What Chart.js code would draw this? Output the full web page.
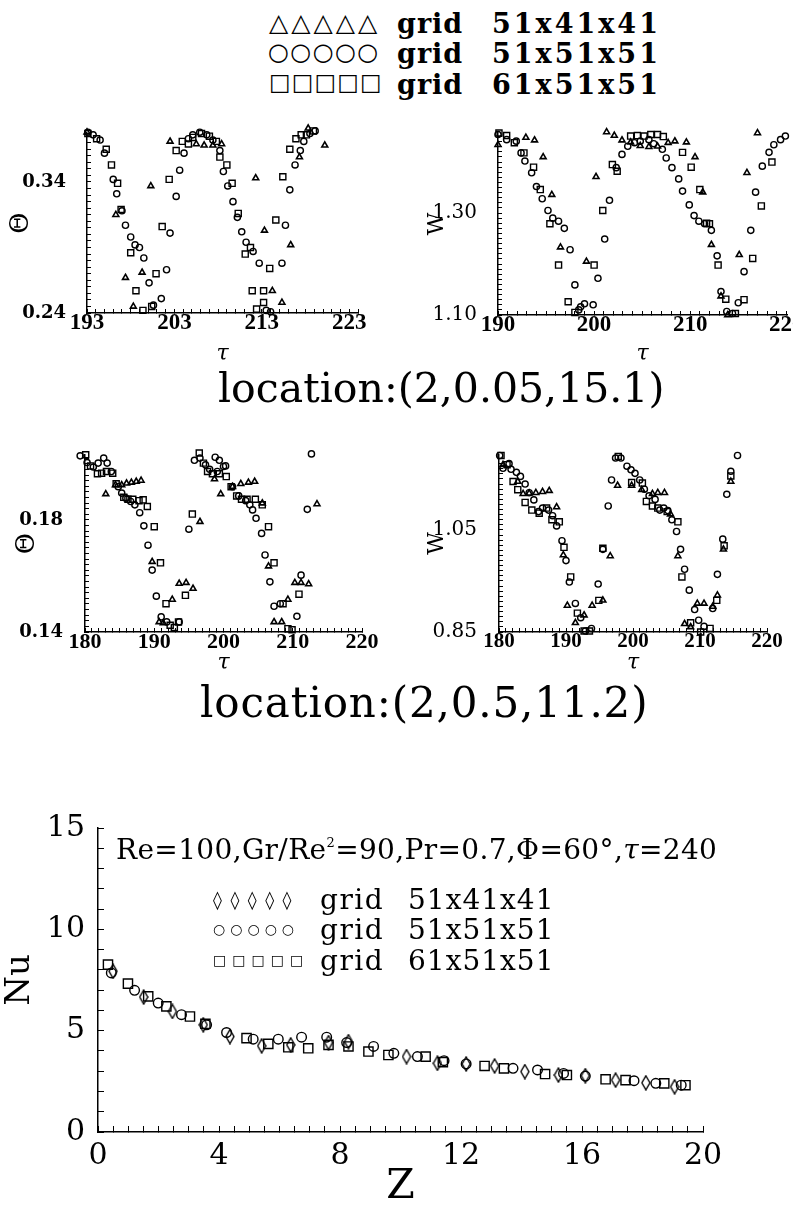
<!DOCTYPE html>
<html>
<head>
<meta charset="utf-8">
<title>grid comparison</title>
<script src="https://cdn.jsdelivr.net/npm/chart.js@4.4.1/dist/chart.umd.min.js"></script>
<style>
  body { margin: 0; background: #fff; }
  #page { position: relative; width: 793px; height: 1209px; overflow: hidden; background: #fff; color: #000; font-family: 'DejaVu Serif', serif; }
  #page canvas { position: absolute; }
  .t { position: absolute; white-space: pre; line-height: 1; }
  .mk { font-family: 'DejaVu Sans', sans-serif; }
  .b { font-weight: bold; }
  sup { font-size: 13px; vertical-align: 12px; line-height: 0; }
</style>
</head>
<body>
<div id="page">
  <canvas id="c1" width="380" height="250" style="left:0;top:120px"></canvas>
  <canvas id="c2" width="393" height="250" style="left:400px;top:120px"></canvas>
  <canvas id="c3" width="380" height="250" style="left:0;top:440px"></canvas>
  <canvas id="c4" width="393" height="250" style="left:400px;top:440px"></canvas>
  <canvas id="c5" width="793" height="409" style="left:0;top:800px"></canvas>

  <!-- legend at the top -->
  <div class="t mk" style="left:269px;top:10px;font-size:25px;letter-spacing:3px">△△△△△</div>
  <div class="t mk" style="left:268px;top:40px;font-size:24px;letter-spacing:1.4px">○○○○○</div>
  <div class="t mk" style="left:269px;top:71px;font-size:23px;letter-spacing:1px">□□□□□</div>
  <div class="t b" style="left:397px;top:10px;font-size:27px;letter-spacing:1px">grid</div>
  <div class="t b" style="left:397px;top:40px;font-size:27px;letter-spacing:1px">grid</div>
  <div class="t b" style="left:397px;top:71px;font-size:27px;letter-spacing:1px">grid</div>
  <div class="t b" style="left:492px;top:10px;font-size:27px;letter-spacing:3px">51x41x41</div>
  <div class="t b" style="left:492px;top:40px;font-size:27px;letter-spacing:3px">51x51x51</div>
  <div class="t b" style="left:492px;top:71px;font-size:27px;letter-spacing:3px">61x51x51</div>

  <div class="t" style="left:218px;top:368px;font-size:41px">location:(2,0.05,15.1)</div>
  <div class="t" style="left:200px;top:682px;font-size:42px;letter-spacing:0.85px">location:(2,0.5,11.2)</div>

  <!-- bottom chart annotations -->
  <div class="t" style="left:116px;top:836px;font-size:28px;letter-spacing:0.35px">Re=100,Gr/Re<sup>2</sup>=90,Pr=0.7,Φ=60°,<i>τ</i>=240</div>
  <div class="t mk" style="left:213px;top:891px;font-size:18px;letter-spacing:8.5px">◊◊◊◊◊</div>
  <div class="t mk" style="left:213px;top:922px;font-size:14px;letter-spacing:5px">○○○○○</div>
  <div class="t mk" style="left:213px;top:953px;font-size:14px;letter-spacing:6px">□□□□□</div>
  <div class="t" style="left:320px;top:886px;font-size:28px;letter-spacing:1.5px">grid</div>
  <div class="t" style="left:320px;top:916px;font-size:28px;letter-spacing:1.5px">grid</div>
  <div class="t" style="left:320px;top:947px;font-size:28px;letter-spacing:1.5px">grid</div>
  <div class="t" style="left:408px;top:886px;font-size:28px;letter-spacing:1px">51x41x41</div>
  <div class="t" style="left:408px;top:916px;font-size:28px;letter-spacing:1px">51x51x51</div>
  <div class="t" style="left:408px;top:947px;font-size:28px;letter-spacing:1px">61x51x51</div>
</div>

<script>
// ---------- location (2,0.05,15.1): Theta vs tau ----------
var tauLabels1 = [193, 203, 213, 223];
var thetaLabels1 = [0.24, 0.34];
var th1Tri = [[193.0,0.378],[196.3,0.315],[197.4,0.267],[198.3,0.245],[199.3,0.271],[200.3,0.337],[202.5,0.371],[205.5,0.369],[206.4,0.368],[207.4,0.368],[208.4,0.369],[212.3,0.343],[213.3,0.303],[214.2,0.257],[215.3,0.248],[216.3,0.292],[217.3,0.359],[218.3,0.381],[220.2,0.368]];
var th1Cir = [[193.1,0.378],[193.7,0.376],[194.5,0.372],[195.0,0.362],[196.0,0.342],[196.4,0.331],[197.0,0.318],[197.4,0.307],[198.0,0.298],[198.5,0.292],[199.0,0.290],[199.5,0.282],[200.1,0.263],[200.6,0.246],[201.5,0.251],[202.1,0.273],[202.5,0.301],[203.2,0.329],[203.6,0.349],[204.1,0.362],[204.6,0.373],[205.1,0.376],[205.9,0.378],[206.7,0.376],[207.4,0.372],[208.2,0.364],[208.6,0.348],[209.1,0.337],[209.7,0.325],[210.2,0.313],[210.7,0.302],[211.2,0.294],[212.0,0.287],[212.7,0.278],[213.5,0.242],[214.0,0.241],[215.3,0.278],[215.7,0.307],[216.2,0.334],[216.8,0.353],[217.4,0.364],[217.8,0.371],[218.5,0.377],[219.1,0.379]];
var th1Sq = [[193.1,0.377],[194.1,0.373],[195.2,0.365],[195.8,0.353],[196.5,0.339],[196.9,0.319],[198.0,0.286],[198.6,0.257],[199.4,0.242],[200.4,0.245],[200.9,0.270],[201.6,0.306],[202.4,0.342],[203.2,0.364],[203.9,0.371],[204.6,0.369],[205.1,0.374],[206.1,0.377],[207.0,0.375],[207.8,0.371],[208.2,0.359],[209.0,0.353],[209.6,0.339],[210.3,0.316],[211.1,0.285],[211.7,0.290],[211.9,0.257],[212.4,0.243],[213.2,0.257],[213.2,0.248],[213.9,0.274],[214.6,0.311],[215.4,0.344],[216.2,0.365],[216.9,0.373],[217.5,0.376],[218.1,0.376],[218.9,0.379]];

// ---------- location (2,0.05,15.1): W vs tau ----------
var tauLabels2 = [190, 200, 210, 220];
var wLabels1 = [1.10, 1.30];
var w1Tri = [[190.0,1.434],[192.9,1.448],[193.8,1.443],[194.7,1.410],[195.6,1.336],[196.5,1.233],[199.2,1.205],[200.2,1.371],[201.3,1.459],[202.1,1.452],[202.9,1.443],[203.8,1.439],[204.8,1.432],[205.7,1.430],[206.6,1.431],[207.7,1.438],[208.4,1.441],[209.6,1.439],[210.5,1.410],[211.3,1.341],[212.2,1.238],[213.2,1.137],[213.9,1.100],[215.1,1.218],[215.9,1.379],[217.0,1.457]];
var w1Cir = [[190.0,1.454],[190.9,1.444],[191.9,1.441],[192.4,1.418],[192.8,1.402],[193.5,1.379],[194.0,1.352],[194.6,1.328],[195.2,1.305],[195.7,1.290],[196.3,1.284],[196.9,1.270],[197.5,1.228],[198.0,1.159],[198.4,1.110],[198.6,1.116],[199.0,1.122],[199.9,1.120],[200.4,1.172],[201.1,1.249],[201.6,1.325],[202.3,1.389],[202.9,1.415],[203.5,1.431],[204.2,1.438],[204.8,1.441],[205.7,1.444],[206.2,1.436],[207.1,1.425],[207.5,1.408],[208.1,1.389],[208.8,1.367],[209.2,1.343],[209.9,1.316],[210.4,1.295],[210.9,1.284],[211.5,1.279],[212.2,1.266],[212.8,1.216],[213.2,1.146],[213.8,1.107],[214.4,1.103],[215.0,1.124],[215.6,1.185],[216.3,1.266],[216.8,1.341],[217.5,1.392],[218.2,1.419],[218.7,1.434],[219.4,1.444],[219.9,1.451]];
var w1Sq = [[190.1,1.457],[190.9,1.452],[191.7,1.438],[192.7,1.418],[193.7,1.390],[194.4,1.346],[195.4,1.279],[196.3,1.198],[197.3,1.126],[198.0,1.105],[200.0,1.198],[200.9,1.305],[201.9,1.395],[202.4,1.382],[203.8,1.451],[204.5,1.452],[205.2,1.451],[205.9,1.454],[206.6,1.454],[207.2,1.450],[209.2,1.419],[210.1,1.390],[211.0,1.346],[211.7,1.280],[212.0,1.279],[212.9,1.198],[213.7,1.131],[214.7,1.103],[215.6,1.130],[216.5,1.211],[217.4,1.314],[218.5,1.400]];

// ---------- location (2,0.5,11.2): Theta vs tau ----------
var tauLabels3 = [180, 190, 200, 210, 220];
var thetaLabels2 = [0.14, 0.18];
var th2Tri = [[181.0,0.2065],[183.0,0.1893],[184.4,0.1925],[185.3,0.1925],[186.0,0.1931],[186.7,0.1934],[187.4,0.1937],[188.1,0.1941],[189.7,0.1651],[190.7,0.1436],[191.3,0.1432],[192.6,0.1516],[193.6,0.1573],[194.6,0.1576],[195.6,0.1555],[196.6,0.1794],[197.8,0.2065],[198.7,0.1946],[199.6,0.1893],[201.3,0.1919],[202.5,0.1929],[203.6,0.1934],[204.5,0.1937],[205.6,0.1860],[206.5,0.1635],[207.3,0.1436],[208.4,0.1436],[209.3,0.1516],[210.3,0.1576],[211.2,0.1576],[212.3,0.1571],[213.5,0.1857]];
var th2Cir = [[179.3,0.2029],[180.3,0.2005],[181.2,0.1989],[181.9,0.2003],[182.7,0.2021],[183.2,0.2003],[183.8,0.1973],[184.8,0.1919],[185.3,0.1896],[185.9,0.1878],[186.6,0.1866],[187.2,0.1854],[187.9,0.1826],[188.5,0.1779],[189.1,0.1710],[189.7,0.1621],[190.3,0.1528],[191.0,0.1454],[191.8,0.1436],[193.6,0.1436],[195.0,0.1767],[195.8,0.2013],[196.6,0.2021],[197.4,0.1997],[198.0,0.1981],[198.8,0.2024],[199.1,0.1973],[199.4,0.2013],[200.0,0.1991],[200.3,0.1993],[201.3,0.1919],[202.2,0.1886],[203.2,0.1869],[203.8,0.1854],[204.2,0.1836],[204.7,0.1806],[205.5,0.1752],[206.0,0.1675],[206.7,0.1579],[207.3,0.1492],[208.2,0.1501],[210.6,0.1456],[211.2,0.1603],[212.1,0.1838],[212.7,0.2036]];
var th2Sq = [[180.1,0.2033],[180.8,0.1993],[181.8,0.1965],[182.4,0.1967],[183.1,0.1973],[184.0,0.1967],[184.5,0.1929],[185.6,0.1881],[186.2,0.1874],[186.9,0.1874],[187.8,0.1869],[188.4,0.1872],[189.0,0.1848],[190.0,0.1776],[190.9,0.1647],[191.7,0.1501],[192.3,0.1424],[192.9,0.1416],[193.5,0.1436],[194.5,0.1531],[195.5,0.1821],[196.5,0.2039],[197.1,0.2003],[197.7,0.1973],[198.4,0.1965],[199.4,0.1965],[200.4,0.1955],[201.1,0.1919],[201.9,0.1886],[202.6,0.1874],[203.4,0.1874],[204.6,0.1874],[205.6,0.1854],[206.5,0.1776],[207.3,0.1647],[208.6,0.1501],[209.3,0.1412],[209.9,0.1408],[210.9,0.1535]];

// ---------- location (2,0.5,11.2): W vs tau ----------
var wLabels2 = [0.85, 1.05];
var w2Tri = [[180.6,1.178],[182.8,1.145],[183.6,1.121],[184.5,1.122],[185.5,1.123],[186.5,1.125],[187.5,1.127],[188.6,1.095],[189.6,1.001],[190.2,0.902],[191.4,0.868],[192.7,0.883],[193.9,0.902],[195.5,0.912],[196.6,0.999],[197.7,1.137],[199.8,1.137],[201.3,1.129],[202.9,1.121],[203.7,1.123],[204.7,1.123],[205.6,1.081],[206.7,0.999],[207.7,0.866],[208.6,0.860],[209.6,0.906],[210.6,0.906],[211.9,0.900],[212.6,0.922],[213.5,1.012],[214.6,1.145]];
var w2Cir = [[180.1,1.196],[180.6,1.171],[181.5,1.180],[181.8,1.169],[182.6,1.163],[183.2,1.155],[183.9,1.140],[184.5,1.123],[185.2,1.109],[185.9,1.086],[186.5,1.093],[187.4,1.089],[188.0,1.078],[188.6,1.058],[189.4,1.029],[190.0,0.990],[190.5,0.948],[191.4,0.906],[192.2,0.878],[192.9,0.852],[193.8,0.857],[194.8,0.944],[195.5,1.012],[196.3,1.097],[196.8,1.148],[197.4,1.191],[198.2,1.191],[199.1,1.175],[199.7,1.168],[200.3,1.161],[201.0,1.148],[201.7,1.130],[202.4,1.117],[203.3,1.110],[204.0,1.089],[204.6,1.093],[205.2,1.088],[205.8,1.070],[206.5,1.047],[207.1,1.012],[207.7,0.973],[208.4,0.932],[209.2,0.894],[209.8,0.873],[210.6,0.861],[211.9,0.896],[212.6,0.963],[213.4,1.032],[214.0,1.120],[214.6,1.165],[215.6,1.196]];
var w2Sq = [[180.3,1.196],[181.2,1.178],[182.1,1.145],[182.8,1.129],[183.9,1.104],[184.9,1.089],[186.0,1.083],[187.1,1.093],[187.9,1.070],[189.0,1.066],[189.7,1.016],[190.7,0.958],[191.7,0.887],[192.7,0.852],[193.5,0.852],[194.9,0.912],[195.5,1.014],[197.8,1.194],[199.8,1.143],[201.4,1.142],[202.0,1.106],[202.9,1.097],[203.7,1.093],[205.1,1.086],[206.7,1.066],[207.3,0.958],[208.6,0.868],[210.1,0.850],[211.5,0.857],[212.5,0.912],[213.6,1.019],[214.6,1.156]];

// ---------- Nu vs Z ----------
var zLabels = [0, 4, 8, 12, 16, 20];
var nuLabels = [0, 5, 10, 15];
var nuDia = [[0.50,7.93],[1.51,6.66],[2.46,5.95],[3.48,5.29],[4.36,4.71],[5.41,4.25],[6.37,4.30],[7.62,4.41],[8.28,4.46],[10.2,3.72],[11.22,3.39],[12.17,3.36],[13.11,3.26],[14.11,2.98],[15.22,2.81],[16.11,2.78],[17.11,2.56],[18.11,2.43],[19.06,2.23]];
var nuCir = [[0.44,7.85],[1.21,6.99],[1.99,6.36],[2.76,5.79],[3.59,5.29],[4.25,4.91],[5.13,4.58],[5.96,4.58],[6.73,4.68],[7.56,4.68],[8.22,4.41],[9.11,4.22],[9.78,3.88],[10.56,3.72],[11.44,3.52],[12.17,3.36],[13.72,3.14],[14.53,3.06],[15.39,2.89],[16.11,2.76],[17.72,2.53],[18.44,2.40],[19.28,2.31]];
var nuSq = [[0.33,8.26],[0.99,7.32],[1.66,6.69],[2.26,6.20],[3.04,5.70],[3.55,5.34],[4.91,4.63],[5.63,4.35],[6.29,4.18],[6.95,4.13],[7.62,4.30],[8.28,4.22],[8.94,3.97],[9.6,3.80],[10.83,3.72],[11.4,3.45],[12.78,3.26],[13.42,3.14],[14.78,2.86],[15.5,2.81],[16.78,2.60],[17.44,2.56],[18.72,2.40],[19.42,2.31]];

var BLACK = '#000';
var SERIF = "'DejaVu Serif', serif";
var TIMES = "'Liberation Serif', serif";

function pts(a) {
  return a.map(function (p) { return {x: p[0], y: p[1]}; });
}

// show a label only on the listed tick values, the rest are bare tick marks
function labelAt(list, digits) {
  return function (v) {
    for (var i = 0; i < list.length; i++) {
      if (Math.abs(list[i] - v) < 1e-6) return digits ? list[i].toFixed(digits) : String(list[i]);
    }
    return '';
  };
}

// tall thin diamond marker for the bottom chart
function diamond(w, h, lw) {
  var c = document.createElement('canvas');
  c.width = w + 2 * lw; c.height = h + 2 * lw;
  var g = c.getContext('2d');
  var cx = c.width / 2, cy = c.height / 2;
  g.strokeStyle = BLACK; g.lineWidth = lw;
  g.beginPath();
  g.moveTo(cx, cy - h / 2); g.lineTo(cx + w / 2, cy);
  g.lineTo(cx, cy + h / 2); g.lineTo(cx - w / 2, cy);
  g.closePath(); g.stroke();
  return c;
}

function axis(a, pos) {
  return {
    type: 'linear', position: pos, min: a.min, max: a.max,
    afterFit: function (s) {
      if (pos === 'left') s.width = a.size; else s.height = a.size;
      s.paddingLeft = 0; s.paddingRight = 0; s.paddingTop = 0; s.paddingBottom = 0;
    },
    border: {display: true, color: BLACK, width: 1.5},
    grid: {drawOnChartArea: false, drawTicks: true, tickLength: a.tick, color: BLACK, lineWidth: 1},
    ticks: {stepSize: a.step, includeBounds: false, autoSkip: false, maxRotation: 0, padding: a.gap,
            color: BLACK, font: a.font, callback: labelAt(a.labels, a.digits)},
    title: {display: true, text: a.title, color: BLACK, font: a.tfont,
            padding: pos === 'left' ? {top: a.tgap, bottom: 0} : {top: 0, bottom: a.tgap}}
  };
}

function makeChart(id, cfg) {
  var sets = cfg.series.map(function (s) {
    return {
      data: pts(s.data), pointStyle: s.style, pointRadius: s.r,
      pointBorderColor: BLACK, pointBackgroundColor: 'rgba(0,0,0,0)',
      pointBorderWidth: s.lw, showLine: false, clip: false
    };
  });
  return new Chart(document.getElementById(id), {
    type: 'scatter',
    data: {datasets: sets},
    options: {
      responsive: false, animation: false, events: [],
      layout: {padding: cfg.pad},
      plugins: {legend: {display: false}, tooltip: {enabled: false}},
      scales: {x: axis(cfg.x, 'bottom'), y: axis(cfg.y, 'left')}
    }
  });
}

var xTopFont = {family: TIMES, size: 23, weight: 'bold'};
var tauFont = {family: SERIF, size: 22, style: 'italic', lineHeight: 1};
var thetaFont = {family: SERIF, size: 26, lineHeight: 1};
var wFont = {family: SERIF, size: 22, lineHeight: 1};

function topSeries(tri, cir, sq) {
  return [
    {data: tri, style: 'triangle', r: 3.4, lw: 1.6},
    {data: cir, style: 'circle', r: 3.1, lw: 1.4},
    {data: sq, style: 'rect', r: 4.3, lw: 1.4}
  ];
}

makeChart('c1', {
  pad: {left: 0, right: 22, top: 13, bottom: 0},
  series: topSeries(th1Tri, th1Cir, th1Sq),
  x: {min: 193, max: 224, step: 1, labels: tauLabels1, size: 57, tick: -4, gap: 0,
      font: xTopFont, title: 'τ', tfont: tauFont, tgap: 5},
  y: {min: 0.24, max: 0.3774, step: 0.005, labels: thetaLabels1, digits: 2, size: 87, tick: -4, gap: 25,
      font: {family: SERIF, size: 18, weight: 'bold'}, title: 'Θ', tfont: thetaFont, tgap: 8}
});

makeChart('c2', {
  pad: {left: 0, right: 0, top: 13, bottom: 0},
  series: topSeries(w1Tri, w1Cir, w1Sq),
  x: {min: 190, max: 220.1, step: 1, labels: tauLabels2, size: 55, tick: -4, gap: 0,
      font: xTopFont, title: 'τ', tfont: tauFont, tgap: 5},
  y: {min: 1.10, max: 1.457, step: 0.01, labels: wLabels1, digits: 2, size: 98, tick: -4, gap: 25,
      font: {family: SERIF, size: 20}, title: 'W', tfont: wFont, tgap: 26}
});

makeChart('c3', {
  pad: {left: 0, right: 18, top: 15, bottom: 0},
  series: topSeries(th2Tri, th2Cir, th2Sq),
  x: {min: 180, max: 220, step: 1, labels: tauLabels3, size: 58, tick: -4, gap: 1,
      font: {family: TIMES, size: 22, weight: 'bold'}, title: 'τ', tfont: tauFont, tgap: 16},
  y: {min: 0.14, max: 0.2032, step: 0.002, labels: thetaLabels2, digits: 2, size: 85, tick: -4, gap: 26,
      font: {family: SERIF, size: 18, weight: 'bold'}, title: 'Θ', tfont: thetaFont, tgap: 14}
});

makeChart('c4', {
  pad: {left: 0, right: 26, top: 15, bottom: 0},
  series: topSeries(w2Tri, w2Cir, w2Sq),
  x: {min: 180, max: 220, step: 1, labels: tauLabels3, size: 58, tick: -4, gap: 1,
      font: {family: TIMES, size: 21, weight: 'bold'}, title: 'τ', tfont: tauFont, tgap: 16},
  y: {min: 0.85, max: 1.197, step: 0.01, labels: wLabels2, digits: 2, size: 99, tick: -4, gap: 26,
      font: {family: SERIF, size: 20}, title: 'W', tfont: wFont, tgap: 26}
});

makeChart('c5', {
  pad: {left: 0, right: 90, top: 28, bottom: 0},
  series: [
    {data: nuDia, style: diamond(8, 14, 1.4), r: 6, lw: 1.4},
    {data: nuCir, style: 'circle', r: 4.8, lw: 1.4},
    {data: nuSq, style: 'rect', r: 6.5, lw: 1.4}
  ],
  x: {min: 0, max: 20, step: 0.5, labels: zLabels, size: 77, tick: -6, gap: 12,
      font: {family: SERIF, size: 30}, title: 'Z', tfont: {family: SERIF, size: 41, lineHeight: 1}, tgap: 1},
  y: {min: 0, max: 15, step: 1, labels: nuLabels, size: 98, tick: -6, gap: 19,
      font: {family: SERIF, size: 30}, title: 'Nu', tfont: {family: SERIF, size: 34, lineHeight: 1}, tgap: 3}
});
</script>
</body>
</html>
